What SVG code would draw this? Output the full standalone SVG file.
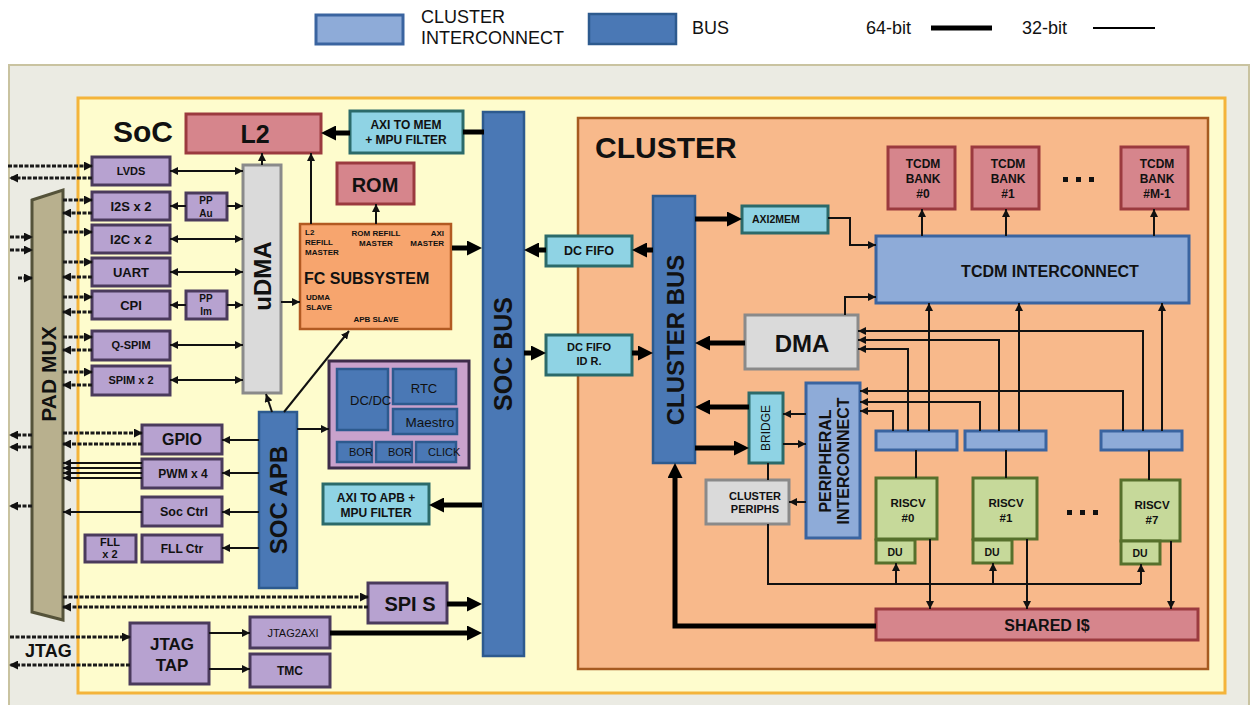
<svg xmlns="http://www.w3.org/2000/svg" width="1253" height="705" viewBox="0 0 1253 705">
<defs>
<style>
text{font-family:"Liberation Sans",Arial,sans-serif;fill:#111}
.b{font-weight:bold}
.m{text-anchor:middle}
.c{text-anchor:middle;dominant-baseline:central}
.pp{fill:#b7a2d0;stroke:#4a3a5c;stroke-width:3}
.pw{fill:#c9a2cc;stroke:#3d2c4a;stroke-width:3}
.bus{fill:#4a78b5;stroke:#2d5a8e;stroke-width:2.5}
.ic{fill:#8eabd8;stroke:#3a64a0;stroke-width:3}
.cy{fill:#8fd3e4;stroke:#2b6a6a;stroke-width:3}
.rd{fill:#d6858c;stroke:#9b3a3f;stroke-width:3}
.or{fill:#f7a56e;stroke:#b25a22;stroke-width:2.5}
.gr{fill:#dadada;stroke:#8a8a8a;stroke-width:3}
.gn{fill:#c6d99a;stroke:#56702c;stroke-width:3}
.ln{stroke:#111;stroke-width:2;fill:none}
.th{stroke:#000;stroke-width:5;fill:none}
.dt{stroke:#1a1a1a;stroke-width:3;stroke-dasharray:4 1.5;fill:none}
</style>
<marker id="a" viewBox="0 0 10 10" refX="10" refY="5" markerWidth="8" markerHeight="8" markerUnits="userSpaceOnUse" orient="auto-start-reverse"><path d="M0,0L10,5L0,10z" fill="#111"/></marker>
<marker id="d" viewBox="0 0 10 10" refX="9" refY="5" markerWidth="9" markerHeight="9" markerUnits="userSpaceOnUse" orient="auto-start-reverse"><path d="M0,0L10,5L0,10z" fill="#111"/></marker>
<marker id="t" viewBox="0 0 10 10" refX="5" refY="5" markerWidth="15" markerHeight="15" markerUnits="userSpaceOnUse" orient="auto-start-reverse"><path d="M0,0L10,5L0,10z" fill="#000"/></marker>
</defs>

<g id="background">
<rect x="9" y="65" width="1240" height="650" fill="#ebebe3" stroke="#c9c3a0" stroke-width="2"/>
<rect x="78" y="98" width="1147" height="595" fill="#fefccd" stroke="#f4b43a" stroke-width="3"/>
<text x="113" y="142" class="b" font-size="30">SoC</text>
</g>

<g id="legend">
<rect x="316" y="15" width="87" height="29" class="ic"/>
<text x="421" y="23" font-size="18">CLUSTER</text>
<text x="421" y="44" font-size="18">INTERCONNECT</text>
<rect x="589" y="14" width="87" height="30" class="bus" stroke-width="3"/>
<text x="692" y="34" font-size="18">BUS</text>
<text x="866" y="34" font-size="18">64-bit</text>
<line x1="931" y1="28" x2="992" y2="28" stroke="#000" stroke-width="5"/>
<text x="1022" y="34" font-size="18">32-bit</text>
<line x1="1093" y1="28" x2="1155" y2="28" stroke="#000" stroke-width="2"/>
</g>

<g id="cluster-frame">
<rect x="578" y="118" width="630" height="551" fill="#f8b98b" stroke="#a65a20" stroke-width="2.5"/>
<text x="595" y="158" class="b" font-size="30">CLUSTER</text>
</g>

<g id="padmux">
<polygon points="32,200 63,190 63,620 32,612" fill="#b8b08e" stroke="#55533a" stroke-width="3"/>
<text class="c b" font-size="21" transform="translate(48,374) rotate(-90)">PAD MUX</text>
</g>

<g id="lvds"><rect x="92" y="157" width="78" height="28" class="pp"/><text x="131" y="175" class="m b" font-size="11">LVDS</text></g>
<g id="i2s"><rect x="92" y="192" width="78" height="28" class="pp"/><text x="131" y="211" class="m b" font-size="13">I2S x 2</text></g>
<g id="ppau"><rect x="186" y="193" width="41" height="27" class="pp"/><text x="206" y="204" class="m b" font-size="10">PP</text><text x="206" y="217" class="m b" font-size="10">Au</text></g>
<g id="i2c"><rect x="92" y="225" width="78" height="28" class="pp"/><text x="131" y="244" class="m b" font-size="13">I2C x 2</text></g>
<g id="uart"><rect x="92" y="258" width="78" height="28" class="pp"/><text x="131" y="277" class="m b" font-size="13">UART</text></g>
<g id="cpi"><rect x="92" y="291" width="78" height="28" class="pp"/><text x="131" y="310" class="m b" font-size="13">CPI</text></g>
<g id="ppim"><rect x="186" y="291" width="41" height="28" class="pp"/><text x="206" y="302" class="m b" font-size="10">PP</text><text x="206" y="315" class="m b" font-size="10">Im</text></g>
<g id="qspim"><rect x="92" y="331" width="78" height="29" class="pp"/><text x="131" y="349" class="m b" font-size="11">Q-SPIM</text></g>
<g id="spim"><rect x="92" y="366" width="78" height="29" class="pp"/><text x="131" y="384" class="m b" font-size="11">SPIM x 2</text></g>
<g id="gpio"><rect x="142" y="425" width="80" height="29" class="pp"/><text x="182" y="445" class="m b" font-size="16">GPIO</text></g>
<g id="pwm"><rect x="142" y="459" width="80" height="29" class="pp"/><text x="183" y="478" class="m b" font-size="12">PWM x 4</text></g>
<g id="socctrl"><rect x="142" y="497" width="80" height="29" class="pp"/><text x="184" y="516" class="m b" font-size="12.5">Soc Ctrl</text></g>
<g id="fllctr"><rect x="142" y="535" width="80" height="27" class="pp"/><text x="182" y="553" class="m b" font-size="12">FLL Ctr</text></g>
<g id="fll"><rect x="85" y="535" width="51" height="27" class="pp"/><text x="110" y="546" class="m b" font-size="11">FLL</text><text x="110" y="558" class="m b" font-size="11">x 2</text></g>
<g id="jtagtap"><rect x="130" y="623" width="79" height="61" class="pp"/><text x="172" y="650" class="m b" font-size="17">JTAG</text><text x="172" y="671" class="m b" font-size="17">TAP</text></g>
<g id="jtag2axi"><rect x="250" y="617" width="80" height="31" class="pp"/><text x="293" y="637" class="m" font-size="11">JTAG2AXI</text></g>
<g id="tmc"><rect x="250" y="654" width="80" height="33" class="pp"/><text x="290" y="675" class="m b" font-size="12">TMC</text></g>
<g id="jtag-label"><text x="25" y="657" class="b" font-size="18">JTAG</text></g>
<g id="spis"><rect x="368" y="583" width="79" height="40" class="pp"/><text x="410" y="611" class="m b" font-size="20">SPI S</text></g>

<g id="udma"><rect x="243" y="165" width="38" height="228" class="gr"/><text class="c b" font-size="24" transform="translate(262,276) rotate(-90)">uDMA</text></g>
<g id="socapb"><rect x="259" y="412" width="38" height="176" class="bus"/><text class="c b" font-size="24" transform="translate(278,500) rotate(-90)">SOC APB</text></g>

<g id="l2"><rect x="186" y="114" width="135" height="39" class="rd"/><text x="255" y="143" class="m b" font-size="25">L2</text></g>
<g id="axi2memf"><rect x="350" y="111" width="113" height="42" class="cy"/><text x="406" y="129" class="m b" font-size="12">AXI TO MEM</text><text x="406" y="144" class="m b" font-size="12">+ MPU FILTER</text></g>
<g id="rom"><rect x="337" y="163" width="77" height="41" class="rd"/><text x="375" y="192" class="m b" font-size="20">ROM</text></g>
<g id="fc">
<rect x="300" y="224" width="151" height="105" class="or"/>
<text x="305" y="235" class="b" font-size="8">L2</text>
<text x="305" y="245" class="b" font-size="8">REFILL</text>
<text x="305" y="255" class="b" font-size="8">MASTER</text>
<text x="376" y="236" class="m b" font-size="8">ROM REFILL</text>
<text x="376" y="246" class="m b" font-size="8">MASTER</text>
<text x="444" y="236" class="b" font-size="8" text-anchor="end">AXI</text>
<text x="444" y="246" class="b" font-size="8" text-anchor="end">MASTER</text>
<text x="304" y="284" class="b" font-size="16">FC SUBSYSTEM</text>
<text x="306" y="300" class="b" font-size="8">UDMA</text>
<text x="306" y="310" class="b" font-size="8">SLAVE</text>
<text x="376" y="322" class="m b" font-size="8">APB SLAVE</text>
</g>
<g id="power">
<rect x="329" y="361" width="140" height="107" class="pw"/>
<rect x="337" y="369" width="51" height="61" class="bus" stroke-width="1.5"/>
<rect x="393" y="369" width="63" height="35" class="bus" stroke-width="1.5"/>
<rect x="393" y="409" width="64" height="25" class="bus" stroke-width="1.5"/>
<rect x="337" y="442" width="35" height="20" class="bus" stroke-width="1.5"/>
<rect x="376" y="442" width="36" height="20" class="bus" stroke-width="1.5"/>
<rect x="416" y="442" width="40" height="20" class="bus" stroke-width="1.5"/>
<text x="350" y="405" font-size="13" fill="#1a2440">DC/DC</text>
<text x="424" y="393" class="m" font-size="13">RTC</text>
<text x="430" y="427" class="m" font-size="13.5">Maestro</text>
<text x="349" y="456" font-size="11">BOR</text>
<text x="388" y="456" font-size="11">BOR</text>
<text x="428" y="456" font-size="11">CLICK</text>
</g>
<g id="axi2apb"><rect x="323" y="484" width="106" height="40" class="cy"/><text x="376" y="502" class="m b" font-size="12">AXI TO APB +</text><text x="376" y="517" class="m b" font-size="12">MPU FILTER</text></g>
<g id="socbus"><rect x="483" y="112" width="41" height="544" class="bus"/><text class="c b" font-size="25" transform="translate(503,354) rotate(-90)">SOC BUS</text></g>

<g id="dcfifo"><rect x="546" y="236" width="86" height="30" class="cy"/><text x="589" y="255" class="m b" font-size="12.5">DC FIFO</text></g>
<g id="dcfifoid"><rect x="546" y="335" width="86" height="40" class="cy"/><text x="589" y="351" class="m b" font-size="11">DC FIFO</text><text x="589" y="365" class="m b" font-size="11">ID R.</text></g>
<g id="clusterbus"><rect x="653" y="196" width="42" height="267" class="bus"/><text class="c b" font-size="24" transform="translate(675,340) rotate(-90)">CLUSTER BUS</text></g>
<g id="axi2mem"><rect x="742" y="206" width="86" height="27" class="cy"/><text x="752" y="223" class="b" font-size="10.5">AXI2MEM</text></g>
<g id="tcdmic"><rect x="876" y="236" width="313" height="67" class="ic"/><text x="1050" y="277" class="m b" font-size="16">TCDM INTERCONNECT</text></g>
<g id="bank0"><rect x="888" y="147" width="67" height="62" class="rd"/><text x="923" y="168" class="m b" font-size="12">TCDM</text><text x="923" y="183" class="m b" font-size="12">BANK</text><text x="923" y="198" class="m b" font-size="12">#0</text></g>
<g id="bank1"><rect x="972" y="147" width="67" height="62" class="rd"/><text x="1008" y="168" class="m b" font-size="12">TCDM</text><text x="1008" y="183" class="m b" font-size="12">BANK</text><text x="1008" y="198" class="m b" font-size="12">#1</text></g>
<g id="bankm"><rect x="1121" y="147" width="67" height="62" class="rd"/><text x="1157" y="168" class="m b" font-size="12">TCDM</text><text x="1157" y="183" class="m b" font-size="12">BANK</text><text x="1157" y="198" class="m b" font-size="12">#M-1</text></g>
<g id="dots-banks" fill="#111"><rect x="1063" y="177" width="5" height="5"/><rect x="1076" y="177" width="5" height="5"/><rect x="1089" y="177" width="5" height="5"/></g>
<g id="dma"><rect x="745" y="315" width="113" height="54" class="gr"/><text x="802" y="352" class="m b" font-size="24">DMA</text></g>
<g id="bridge"><rect x="749" y="393" width="34" height="70" class="cy"/><text class="c" font-size="12" transform="translate(766,428) rotate(-90)">BRIDGE</text></g>
<g id="perint"><rect x="806" y="383" width="54" height="155" class="ic"/><text class="c b" font-size="16" transform="translate(825,461) rotate(-90)">PERIPHERAL</text><text class="c b" font-size="16" transform="translate(843,461) rotate(-90)">INTERCONNECT</text></g>
<g id="cperiphs"><rect x="706" y="480" width="83" height="44" class="gr"/><text x="755" y="500" class="m b" font-size="11">CLUSTER</text><text x="755" y="513" class="m b" font-size="11">PERIPHS</text></g>
<g id="demux0"><rect x="876" y="431" width="81" height="19" class="ic"/></g>
<g id="demux1"><rect x="965" y="431" width="81" height="19" class="ic"/></g>
<g id="demux7"><rect x="1101" y="431" width="81" height="19" class="ic"/></g>
<g id="riscv0"><rect x="876" y="478" width="61" height="61" class="gn"/><text x="908" y="507" class="m b" font-size="11.5">RISCV</text><text x="908" y="522" class="m b" font-size="11.5">#0</text></g>
<g id="riscv1"><rect x="973" y="478" width="64" height="61" class="gn"/><text x="1006" y="507" class="m b" font-size="11.5">RISCV</text><text x="1006" y="522" class="m b" font-size="11.5">#1</text></g>
<g id="riscv7"><rect x="1121" y="480" width="59" height="61" class="gn"/><text x="1152" y="509" class="m b" font-size="11.5">RISCV</text><text x="1152" y="524" class="m b" font-size="11.5">#7</text></g>
<g id="du0"><rect x="876" y="540" width="39" height="23" class="gn"/><text x="895" y="556" class="m b" font-size="10.5">DU</text></g>
<g id="du1"><rect x="973" y="540" width="39" height="23" class="gn"/><text x="992" y="556" class="m b" font-size="10.5">DU</text></g>
<g id="du7"><rect x="1121" y="541" width="39" height="23" class="gn"/><text x="1140" y="557" class="m b" font-size="10.5">DU</text></g>
<g id="dots-cores" fill="#111"><rect x="1067" y="510" width="5" height="5"/><rect x="1080" y="510" width="5" height="5"/><rect x="1093" y="510" width="5" height="5"/></g>
<g id="sharedi"><rect x="876" y="609" width="322" height="31" class="rd"/><text x="1047" y="631" class="m b" font-size="16">SHARED I$</text></g>

<g id="connectors">
<path class="th" marker-end="url(#t)" d="M350,133H328.5"/>
<path class="th" d="M463,132H484"/>
<path class="th" marker-end="url(#t)" d="M452,248H474.5"/>
<path class="th" marker-end="url(#t)" d="M546,250H531.5"/>
<path class="th" marker-end="url(#t)" d="M524,353H538.5"/>
<path class="th" marker-end="url(#t)" d="M632,353H645.5"/>
<path class="th" marker-end="url(#t)" d="M653,250H639.5"/>
<path class="th" marker-end="url(#t)" d="M695,219H734.5"/>
<path class="th" marker-end="url(#t)" d="M745,343H702.5"/>
<path class="th" marker-end="url(#t)" d="M749,407H702.5"/>
<path class="th" marker-end="url(#t)" d="M695,448H741.5"/>
<path class="th" marker-end="url(#t)" d="M876,626H675V470.5"/>
<path class="th" marker-end="url(#t)" d="M482,505H436.5"/>
<path class="th" marker-end="url(#t)" d="M447,604H474.5"/>
<path class="th" marker-end="url(#t)" d="M330,633H474.5"/>
<path class="ln" marker-start="url(#a)" marker-end="url(#a)" d="M170,171H243"/>
<path class="ln" marker-end="url(#a)" d="M186,206H170"/>
<path class="ln" marker-end="url(#a)" d="M227,206H243"/>
<path class="ln" marker-start="url(#a)" marker-end="url(#a)" d="M170,239H243"/>
<path class="ln" marker-start="url(#a)" marker-end="url(#a)" d="M170,272H243"/>
<path class="ln" marker-end="url(#a)" d="M186,305H170"/>
<path class="ln" marker-end="url(#a)" d="M227,305H243"/>
<path class="ln" marker-start="url(#a)" marker-end="url(#a)" d="M170,345H243"/>
<path class="ln" marker-start="url(#a)" marker-end="url(#a)" d="M170,380H243"/>
<path class="ln" marker-end="url(#a)" d="M262,165V153"/>
<path class="ln" marker-end="url(#a)" d="M311,224V153"/>
<path class="ln" marker-end="url(#a)" d="M376,224V204"/>
<path class="ln" marker-end="url(#a)" d="M281,302H300"/>
<path class="ln" stroke-width="1.5" marker-end="url(#a)" d="M284,412L349,331"/>
<path class="ln" stroke-width="1.5" marker-end="url(#a)" d="M272,412L266,394"/>
<path class="ln" marker-end="url(#a)" d="M297,429H329"/>
<path class="ln" marker-end="url(#a)" d="M259,440H222"/>
<path class="ln" marker-end="url(#a)" d="M259,473H222"/>
<path class="ln" marker-end="url(#a)" d="M259,512H222"/>
<path class="ln" marker-end="url(#a)" d="M259,548H222"/>
<path class="ln" stroke-width="1.5" marker-end="url(#a)" d="M142,463H63"/>
<path class="ln" stroke-width="1.5" marker-end="url(#a)" d="M142,468H63"/>
<path class="ln" stroke-width="1.5" marker-end="url(#a)" d="M142,473H63"/>
<path class="ln" stroke-width="1.5" marker-end="url(#a)" d="M142,478H63"/>
<path class="ln" stroke-width="1.5" marker-end="url(#a)" d="M142,512H63"/>
<path class="ln" marker-end="url(#a)" d="M209,633H250"/>
<path class="ln" marker-end="url(#a)" d="M209,669H250"/>
<path class="ln" marker-end="url(#a)" d="M828,218H850V245H876"/>
<path class="ln" marker-end="url(#a)" d="M845,315V297H876"/>
<path class="ln" marker-end="url(#a)" d="M922,236V209"/>
<path class="ln" marker-end="url(#a)" d="M1006,236V209"/>
<path class="ln" marker-end="url(#a)" d="M1154,236V209"/>
<path class="ln" marker-end="url(#a)" d="M929,431V303"/>
<path class="ln" marker-end="url(#a)" d="M1019,431V303"/>
<path class="ln" marker-end="url(#a)" d="M1162,431V303"/>
<path class="ln" marker-end="url(#a)" d="M908,431V349H858"/>
<path class="ln" marker-end="url(#a)" d="M999,431V340H858"/>
<path class="ln" marker-end="url(#a)" d="M1143,431V331H858"/>
<path class="ln" marker-end="url(#a)" d="M893,431V411H860"/>
<path class="ln" marker-end="url(#a)" d="M980,431V402H860"/>
<path class="ln" marker-end="url(#a)" d="M1123,431V391H860"/>
<path class="ln" d="M916,478V450M1006,478V450M1149,480V450"/>
<path class="ln" marker-end="url(#a)" d="M806,414H783"/>
<path class="ln" marker-end="url(#a)" d="M783,444H806"/>
<path class="ln" marker-end="url(#a)" d="M806,502H789"/>
<path class="ln" d="M768,463V480"/>
<path class="ln" d="M768,524V584H1141"/>
<path class="ln" marker-end="url(#a)" d="M896,584V563"/>
<path class="ln" marker-end="url(#a)" d="M993,584V563"/>
<path class="ln" marker-end="url(#a)" d="M1141,584V564"/>
<path class="ln" marker-end="url(#a)" d="M930,539V609"/>
<path class="ln" marker-end="url(#a)" d="M1027,539V609"/>
<path class="ln" marker-end="url(#a)" d="M1171,541V609"/>
<path class="dt" marker-end="url(#d)" d="M8,166H92"/>
<path class="dt" marker-end="url(#d)" d="M92,178H10"/>
<path class="dt" marker-end="url(#d)" d="M63,200H92"/>
<path class="dt" marker-end="url(#d)" d="M92,213H63"/>
<path class="dt" marker-end="url(#d)" d="M63,232H92"/>
<path class="dt" marker-end="url(#d)" d="M63,262H92"/>
<path class="dt" marker-end="url(#d)" d="M92,277H63"/>
<path class="dt" marker-end="url(#d)" d="M63,297H92"/>
<path class="dt" marker-end="url(#d)" d="M92,312H63"/>
<path class="dt" marker-end="url(#d)" d="M63,337H92"/>
<path class="dt" marker-end="url(#d)" d="M92,350H63"/>
<path class="dt" marker-end="url(#d)" d="M63,372H92"/>
<path class="dt" marker-end="url(#d)" d="M92,385H63"/>
<path class="dt" marker-end="url(#d)" d="M10,237H32"/>
<path class="dt" marker-end="url(#d)" d="M10,250H32"/>
<path class="dt" marker-end="url(#d)" d="M18,278H32"/>
<path class="dt" marker-end="url(#d)" d="M63,433H142"/>
<path class="dt" marker-end="url(#d)" d="M142,444H63"/>
<path class="dt" marker-end="url(#d)" d="M32,435H10"/>
<path class="dt" marker-end="url(#d)" d="M32,447H10"/>
<path class="dt" marker-end="url(#d)" d="M32,506H10"/>
<path class="dt" marker-end="url(#d)" d="M63,597H368"/>
<path class="dt" marker-end="url(#d)" d="M368,607H63"/>
<path class="dt" marker-end="url(#d)" d="M10,637H130"/>
<path class="dt" marker-end="url(#d)" d="M130,665H10"/>
</g>
</svg>
